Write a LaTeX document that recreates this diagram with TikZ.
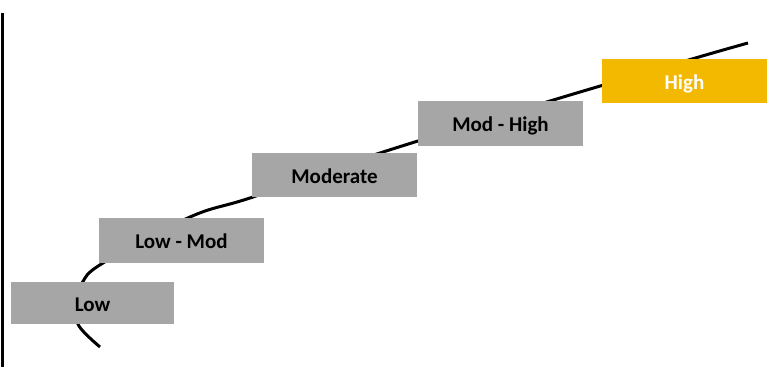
\documentclass[tikz,border=0pt]{standalone}
\usepackage{fontspec}
\setmainfont{Carlito}
\definecolor{boxgray}{HTML}{A6A6A6}
\definecolor{boxgold}{HTML}{F2B900}
\tikzset{
  level/.style={rectangle, fill=boxgray, inner sep=0pt, minimum width=165pt, minimum height=44pt, text height=16.5pt, text depth=0pt, font=\bfseries\fontsize{21pt}{24pt}\selectfont, text=black},
  levelhigh/.style={level, fill=boxgold, text=white},
  curveline/.style={line width=3pt, black},
}
\begin{document}
\begin{tikzpicture}[x=1pt, y=-1pt]
\useasboundingbox (0,0) rectangle (772,383);
\draw[line width=3pt] (2.5,13) -- (2.5,367);
\draw[curveline] plot[smooth, tension=0.6] coordinates {(100,347) (79,326) (75,305) (82,283) (103,263) (190,217) (253,197) (380,153) (550,101) (692,59) (748,43)};
\node[level, minimum width=163pt, minimum height=42pt] (low) at (92.5,303) {Low};
\node[level, minimum height=45pt] (lowmod) at (181.5,240.5) {Low - Mod};
\node[level] (mod) at (334.5,175) {Moderate};
\node[level, minimum height=45pt] (modhigh) at (500.5,123.5) {Mod - High};
\node[levelhigh] (high) at (684.5,81) {High};
\end{tikzpicture}
\end{document}
